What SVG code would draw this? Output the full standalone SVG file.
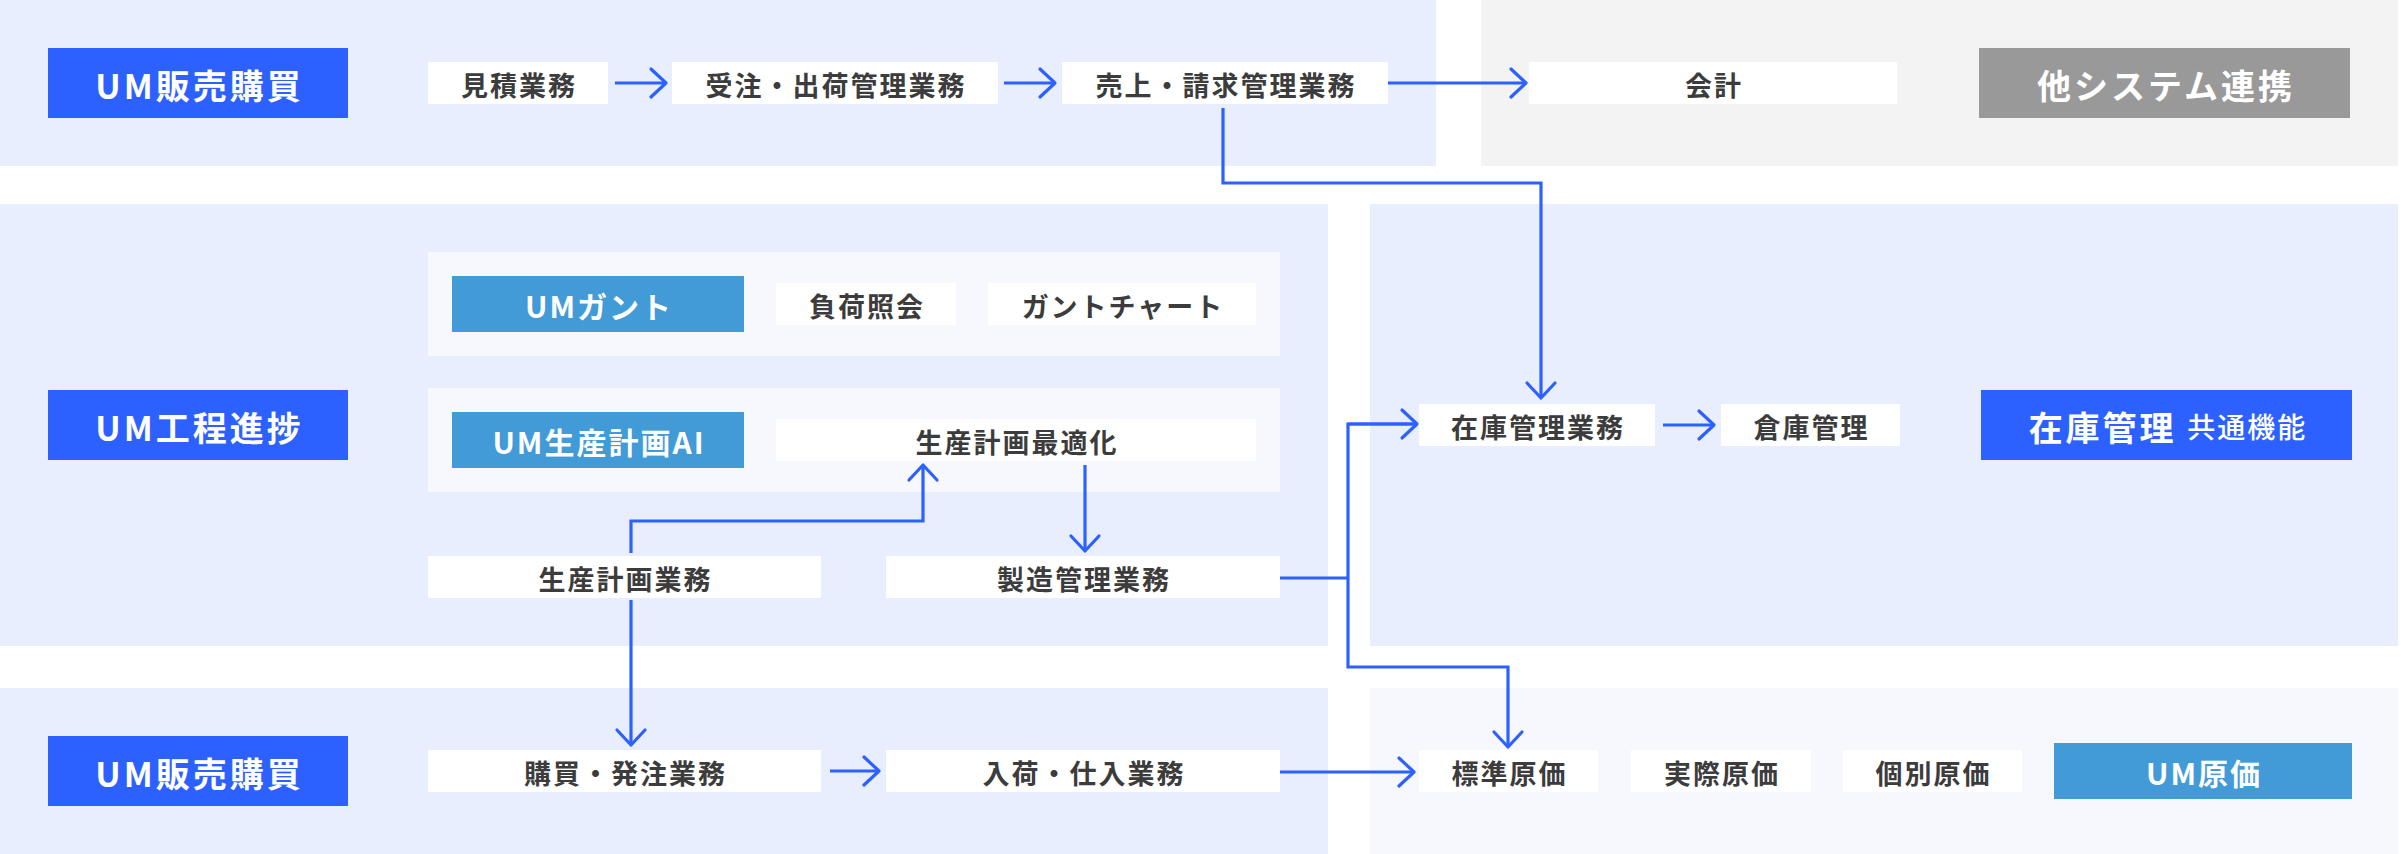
<svg xmlns="http://www.w3.org/2000/svg" width="2401" height="854" viewBox="0 0 2401 854">
<style>
.band{fill:#E8EEFD}
.bandg{fill:#F3F3F3}
.bandl{fill:#F6F8FE}
.panel{fill:#F6F8FE}
.node{fill:#FFFFFF}
.prim{fill:#2D61FF}
.sec{fill:#429BD6}
.gray{fill:#999999}
text{font-family:"Noto Sans CJK JP","Noto Sans CJK SC",sans-serif;text-anchor:middle;dominant-baseline:central}
.t{font-size:27px;font-weight:700;fill:#3C3C3C;letter-spacing:2px}
.tt{font-size:34px;font-weight:700;fill:#FFFFFF;letter-spacing:3px}
.ts{font-size:30px;font-weight:700;fill:#FFFFFF;letter-spacing:2px}
.sub{font-size:28px;font-weight:500;letter-spacing:2px}
.c{fill:none;stroke:#2D61FF;stroke-width:3.2;stroke-linejoin:miter}
</style>
<defs>
<marker id="arr" markerUnits="userSpaceOnUse" viewBox="-20 -20 40 40" markerWidth="40" markerHeight="40" refX="0" refY="0" orient="auto">
<path d="M-15,-14 L0,0 L-15,14" fill="none" stroke="#2D61FF" stroke-width="3.2" stroke-linecap="round" stroke-linejoin="round"/>
</marker>
</defs>

<g id="backgrounds">
<rect class="band" x="0" y="0" width="1436" height="166"/>
<rect class="bandg" x="1481" y="0" width="917" height="166"/>
<rect class="band" x="0" y="204" width="1328" height="442"/>
<rect class="band" x="1370" y="204" width="1028" height="442"/>
<rect class="band" x="0" y="688" width="1328" height="166"/>
<rect class="bandl" x="1370" y="688" width="1028" height="166"/>
<rect class="panel" x="428" y="252" width="852" height="104"/>
<rect class="panel" x="428" y="388" width="852" height="104"/>
</g>

<g id="connectors">
<path class="c" d="M615,83 H666" marker-end="url(#arr)"/>
<path class="c" d="M1004,83 H1055" marker-end="url(#arr)"/>
<path class="c" d="M1388,83 H1526" marker-end="url(#arr)"/>
<path class="c" d="M1223,108 V183 H1541 V398" marker-end="url(#arr)"/>
<path class="c" d="M631,553 V521 H923 V465" marker-end="url(#arr)"/>
<path class="c" d="M1085,465 V551" marker-end="url(#arr)"/>
<path class="c" d="M1280,578 H1348"/>
<path class="c" d="M1417,424 H1348 V667 H1508 V747" marker-end="url(#arr)"/>
<path class="c" d="M1348,424 H1417" marker-end="url(#arr)"/>
<path class="c" d="M1663,425 H1714" marker-end="url(#arr)"/>
<path class="c" d="M631,600 V745" marker-end="url(#arr)"/>
<path class="c" d="M830,771 H879" marker-end="url(#arr)"/>
<path class="c" d="M1280,772 H1414" marker-end="url(#arr)"/>
</g>

<g id="n-um-sales-top"><rect class="prim" x="48" y="48" width="300" height="70"/><text class="tt" x="199.5" y="84">UM販売購買</text></g>
<g id="n-estimate"><rect class="node" x="428" y="62" width="180" height="42"/><text class="t" x="519" y="84">見積業務</text></g>
<g id="n-order"><rect class="node" x="672" y="62" width="326" height="42"/><text class="t" x="836" y="84">受注・出荷管理業務</text></g>
<g id="n-sales"><rect class="node" x="1062" y="62" width="326" height="42"/><text class="t" x="1226" y="84">売上・請求管理業務</text></g>
<g id="n-account"><rect class="node" x="1529" y="62" width="368" height="42"/><text class="t" x="1714" y="84">会計</text></g>
<g id="n-other"><rect class="gray" x="1979" y="48" width="371" height="70"/><text class="tt" x="2166" y="84">他システム連携</text></g>

<g id="n-umgantt"><rect class="sec" x="452" y="276" width="292" height="56"/><text class="ts" x="599" y="305">UMガント</text></g>
<g id="n-load"><rect class="node" x="776" y="283" width="180" height="42"/><text class="t" x="867" y="305">負荷照会</text></g>
<g id="n-gantt"><rect class="node" x="988" y="283" width="268" height="42"/><text class="t" x="1123" y="305">ガントチャート</text></g>

<g id="n-um-process"><rect class="prim" x="48" y="390" width="300" height="70"/><text class="tt" x="199.5" y="426">UM工程進捗</text></g>
<g id="n-umai"><rect class="sec" x="452" y="412" width="292" height="56"/><text class="ts" x="599" y="441">UM生産計画AI</text></g>
<g id="n-optimize"><rect class="node" x="776" y="419" width="480" height="42"/><text class="t" x="1017" y="441">生産計画最適化</text></g>
<g id="n-plan"><rect class="node" x="428" y="556" width="393" height="42"/><text class="t" x="625.5" y="578">生産計画業務</text></g>
<g id="n-mfg"><rect class="node" x="886" y="556" width="394" height="42"/><text class="t" x="1084" y="578">製造管理業務</text></g>

<g id="n-inventory-task"><rect class="node" x="1419" y="404" width="236" height="42"/><text class="t" x="1538" y="426">在庫管理業務</text></g>
<g id="n-warehouse"><rect class="node" x="1721" y="404" width="179" height="42"/><text class="t" x="1811.5" y="426">倉庫管理</text></g>
<g id="n-inventory"><rect class="prim" x="1981" y="390" width="371" height="70"/><text class="tt" x="2168" y="426">在庫管理 <tspan class="sub">共通機能</tspan></text></g>

<g id="n-um-sales-bottom"><rect class="prim" x="48" y="736" width="300" height="70"/><text class="tt" x="199.5" y="772">UM販売購買</text></g>
<g id="n-purchase"><rect class="node" x="428" y="750" width="393" height="42"/><text class="t" x="625.5" y="772">購買・発注業務</text></g>
<g id="n-receive"><rect class="node" x="886" y="750" width="394" height="42"/><text class="t" x="1084" y="772">入荷・仕入業務</text></g>
<g id="n-std"><rect class="node" x="1419" y="750" width="179" height="42"/><text class="t" x="1509.5" y="772">標準原価</text></g>
<g id="n-actual"><rect class="node" x="1631" y="750" width="180" height="42"/><text class="t" x="1722" y="772">実際原価</text></g>
<g id="n-indiv"><rect class="node" x="1843" y="750" width="179" height="42"/><text class="t" x="1933.5" y="772">個別原価</text></g>
<g id="n-umcost"><rect class="sec" x="2054" y="743" width="298" height="56"/><text class="ts" x="2204" y="772">UM原価</text></g>
</svg>
